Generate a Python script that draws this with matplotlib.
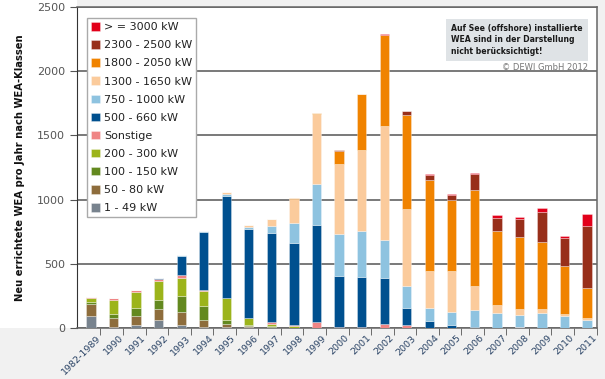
import matplotlib.pyplot as plt
import matplotlib.patches as mpatches
import matplotlib.transforms as mtransforms
import numpy as np

# Jahre / Zeitraeume
years = ['1982-1989', '1990', '1991', '1992', '1993', '1994', '1995', '1996',
         '1997', '1998', '1999', '2000', '2001', '2002', '2003', '2004',
         '2005', '2006', '2007', '2008', '2009', '2010', '2011']

# Anzahl neu errichteter WEA je Klasse (von unten nach oben gestapelt)
kw_1_49 = [97, 10, 23, 61, 26, 10, 5, 5, 3, 0, 0, 0, 0, 0, 0, 0, 0, 0, 0, 0, 0, 0, 0]
kw_50_80 = [92, 69, 74, 87, 100, 54, 23, 10, 3, 0, 0, 0, 0, 0, 0, 0, 0, 0, 0, 0, 0, 0, 0]
kw_100_150 = [10, 31, 56, 72, 123, 105, 34, 8, 8, 3, 0, 0, 0, 0, 0, 0, 0, 0, 0, 0, 0, 0, 0]
kw_200_300 = [31, 105, 125, 148, 143, 120, 169, 52, 20, 13, 0, 0, 0, 0, 0, 0, 0, 0, 0, 0, 0, 0, 0]
sonstige = [13, 15, 15, 13, 20, 5, 5, 5, 10, 10, 44, 10, 10, 31, 26, 0, 0, 0, 0, 5, 0, 0, 0]
kw_500_660 = [0, 0, 0, 10, 148, 453, 788, 694, 699, 637, 759, 398, 385, 359, 130, 57, 21, 5, 3, 0, 0, 0, 0]
kw_750_1000 = [0, 0, 0, 0, 8, 5, 23, 16, 52, 153, 320, 325, 364, 299, 169, 99, 101, 135, 117, 94, 114, 94, 62]
kw_1300_1650 = [0, 0, 0, 0, 0, 0, 10, 13, 57, 192, 546, 546, 629, 881, 603, 291, 320, 187, 62, 49, 36, 13, 16]
kw_1800_2050 = [0, 0, 0, 0, 0, 0, 0, 0, 0, 8, 8, 99, 437, 708, 728, 702, 551, 744, 575, 564, 523, 372, 234]
kw_2300_2500 = [0, 0, 0, 0, 0, 0, 0, 0, 0, 0, 0, 10, 0, 5, 31, 42, 44, 127, 101, 138, 229, 221, 481]
kw_3000 = [0, 0, 0, 0, 0, 0, 0, 0, 0, 0, 0, 0, 0, 5, 0, 8, 10, 8, 23, 16, 31, 16, 94]

series = [kw_1_49, kw_50_80, kw_100_150, kw_200_300, sonstige, kw_500_660,
          kw_750_1000, kw_1300_1650, kw_1800_2050, kw_2300_2500, kw_3000]
labels = ['1 - 49 kW', '50 - 80 kW', '100 - 150 kW', '200 - 300 kW', 'Sonstige',
          '500 - 660 kW', '750 - 1000 kW', '1300 - 1650 kW', '1800 - 2050 kW',
          '2300 - 2500 kW', '> = 3000 kW']
colors = ['#78838e', '#8e6d3c', '#63891f', '#9cb41b', '#ef8585', '#00508f',
          '#8ec3e0', '#fbcb9c', '#f08300', '#982f1a', '#e2001a']

fig = plt.figure(figsize=(6.05, 3.79), dpi=100, facecolor='#f1f1f1')
# weisser Bereich links (Achsenbeschriftung)
fig.patches.append(mpatches.Rectangle((0, 0.1346), 0.1273, 1, transform=fig.transFigure,
                                      facecolor='white', edgecolor='none', zorder=-1))
ax = fig.add_axes([0.1273, 0.1346, 0.8595, 0.847])
ax.set_facecolor('white')

x = np.arange(len(years))
bottom = np.zeros(len(years))
handles = []
for vals, lab, col in zip(series, labels, colors):
    vals = np.array(vals, dtype=float)
    b = ax.bar(x, vals, width=0.41, bottom=bottom, color=col,
               edgecolor=(1, 1, 1, 0.45), linewidth=0.5, label=lab, zorder=3)
    handles.append(b)
    bottom += vals

ax.set_xlim(-0.62, 22.44)
ax.set_ylim(0, 2500)
ax.set_yticks(np.arange(0, 2501, 500))
ax.yaxis.grid(True, color='#555555', linewidth=1.1, zorder=1)
ax.tick_params(axis='y', labelsize=8, labelcolor='#555555', color='#555555', length=5)

ax.set_xticks(x)
ax.set_xticklabels(years, rotation=45, ha='right', rotation_mode='anchor',
                   fontsize=6.8, color='#2b4466')
ax.tick_params(axis='x', length=0, pad=4)
shift = mtransforms.ScaledTranslation(5 / 100, 0, fig.dpi_scale_trans)
for lbl in ax.get_xticklabels():
    lbl.set_transform(lbl.get_transform() + shift)
ax.set_xticks(x + 0.42, minor=True)
ax.tick_params(axis='x', which='minor', length=5, color='#555555')

for s in ['top', 'right', 'bottom']:
    ax.spines[s].set_color('#666666')
    ax.spines[s].set_linewidth(1.1)
ax.spines['left'].set_color('#333333')

ax.set_ylabel('Neu errichtete WEA pro Jahr nach WEA-Klassen', fontsize=7.2,
              fontweight='bold', color='#111111', labelpad=9)

leg = ax.legend(handles[::-1], labels[::-1], loc='upper left',
                bbox_to_anchor=(0.019, 0.965), fontsize=8, fancybox=False,
                edgecolor='#aaaaaa', handlelength=0.8, handleheight=0.8,
                handletextpad=0.4, labelspacing=0.72, borderpad=0.35,
                borderaxespad=0, framealpha=1)
for t in leg.get_texts():
    t.set_color('#222222')

ax.text(0.72, 0.948, 'Auf See (offshore) installierte\nWEA sind in der Darstellung\nnicht berücksichtigt!',
        transform=ax.transAxes, fontsize=5.6, fontweight='bold', color='#1a1a1a',
        family='DejaVu Sans', va='top', ha='left', linespacing=1.4,
        bbox=dict(boxstyle='square,pad=0.65', facecolor='#dfe3e6', edgecolor='none'))
ax.text(0.982, 0.827, '© DEWI GmbH 2012', transform=ax.transAxes, fontsize=6,
        color='#777777', family='DejaVu Sans', va='top', ha='right')

fig.savefig('out.png', dpi=100, facecolor=fig.get_facecolor())
